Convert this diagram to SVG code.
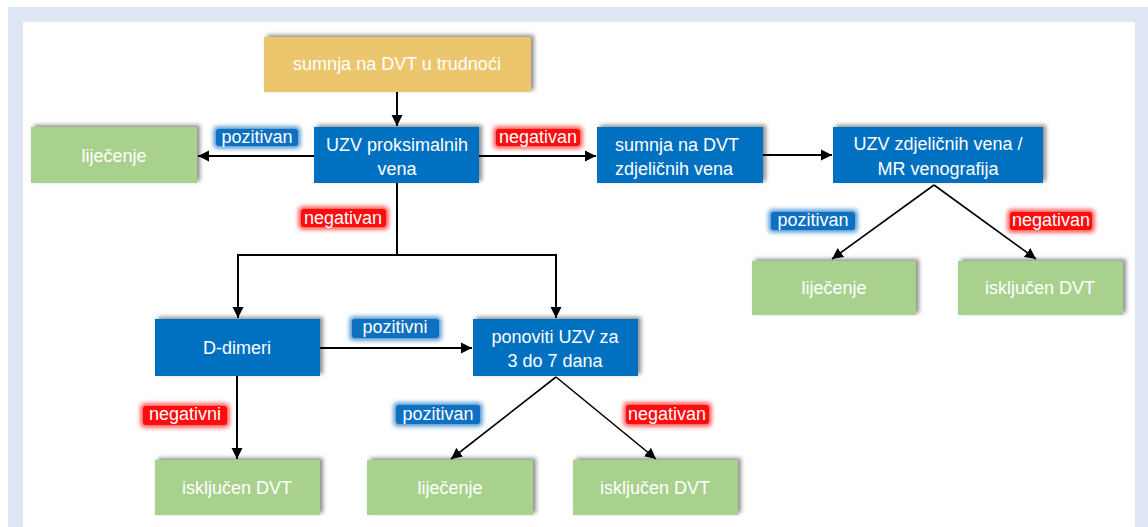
<svg xmlns="http://www.w3.org/2000/svg" width="1148" height="527" viewBox="0 0 1148 527">
<defs>
<style>
.t{font-family:"Liberation Sans",Arial,sans-serif;font-size:18px;fill:#fff;text-anchor:middle}
.tl{font-family:"Liberation Sans",Arial,sans-serif;font-size:18px;fill:#fff}
.yel{fill:#ECC66C}
.blu{fill:#0070C0}
.grn{fill:#A9D18E}
.ln{stroke:#000;stroke-width:2;fill:none}
.ld{stroke:#000;stroke-width:1.6;fill:none}
.pos{fill:#0A6FC0}
.neg{fill:#FF0A0A}
</style>
<filter id="sh" x="-10%" y="-20%" width="120%" height="140%">
<feDropShadow dx="3" dy="-2" stdDeviation="2" flood-color="#000" flood-opacity="0.45"/>
</filter>
<filter id="glowB" x="-25%" y="-70%" width="150%" height="240%">
<feMorphology in="SourceGraphic" operator="dilate" radius="1.5" result="d"/>
<feGaussianBlur in="d" stdDeviation="2.6" result="b"/>
<feComponentTransfer in="b" result="bl"><feFuncA type="linear" slope="0.85"/></feComponentTransfer>
<feMerge><feMergeNode in="bl"/><feMergeNode in="SourceGraphic"/></feMerge>
</filter>
<marker id="ah" markerUnits="userSpaceOnUse" markerWidth="12" markerHeight="12" refX="11" refY="6" orient="auto">
<path d="M0,0.5 L11,6 L0,11.5 z" fill="#000"/>
</marker>
</defs>
<rect x="0" y="0" width="1148" height="527" fill="#fff"/>
<rect x="8" y="7" width="1140" height="520" fill="#DFE6F3"/>
<rect x="23" y="22" width="1112" height="505" fill="#fff"/>

<g id="connectors">
<line class="ln" x1="397" y1="92" x2="397" y2="126" marker-end="url(#ah)"/>
<line class="ln" x1="314" y1="156" x2="198" y2="156" marker-end="url(#ah)"/>
<line class="ln" x1="479" y1="156" x2="596" y2="156" marker-end="url(#ah)"/>
<line class="ln" x1="763" y1="155" x2="832" y2="155" marker-end="url(#ah)"/>
<line class="ld" x1="934" y1="185" x2="832" y2="259" marker-end="url(#ah)"/>
<line class="ld" x1="934" y1="185" x2="1036" y2="259" marker-end="url(#ah)"/>
<polyline class="ln" points="397,183 397,255"/>
<polyline class="ln" points="238,255 556,255"/>
<line class="ln" x1="238" y1="254" x2="238" y2="318" marker-end="url(#ah)"/>
<line class="ln" x1="556" y1="254" x2="556" y2="318" marker-end="url(#ah)"/>
<line class="ln" x1="320" y1="348" x2="472" y2="348" marker-end="url(#ah)"/>
<line class="ln" x1="237" y1="376" x2="237" y2="459" marker-end="url(#ah)"/>
<line class="ld" x1="556" y1="377" x2="451" y2="459" marker-end="url(#ah)"/>
<line class="ld" x1="556" y1="377" x2="656" y2="459" marker-end="url(#ah)"/>
</g>

<g id="labels">
<g id="lbl-poz-1"><rect class="pos" x="216" y="129" width="82" height="17" rx="3" filter="url(#glowB)"/><text class="t" x="257" y="143">pozitivan</text></g>
<g id="lbl-neg-1"><rect class="neg" x="496" y="129" width="84" height="17" rx="3" filter="url(#glowB)"/><text class="t" x="538" y="143">negativan</text></g>
<g id="lbl-neg-2"><rect class="neg" x="301" y="209" width="85" height="18" rx="3" filter="url(#glowB)"/><text class="t" x="343" y="224">negativan</text></g>
<g id="lbl-poz-2"><rect class="pos" x="771" y="212" width="84" height="18" rx="3" filter="url(#glowB)"/><text class="t" x="813" y="226">pozitivan</text></g>
<g id="lbl-neg-3"><rect class="neg" x="1010" y="212" width="82" height="18" rx="3" filter="url(#glowB)"/><text class="t" x="1051" y="226">negativan</text></g>
<g id="lbl-poz-3"><rect class="pos" x="352" y="319" width="87" height="19" rx="3" filter="url(#glowB)"/><text class="t" x="395" y="333">pozitivni</text></g>
<g id="lbl-neg-4"><rect class="neg" x="143" y="406" width="84" height="19" rx="3" filter="url(#glowB)"/><text class="t" x="185" y="420">negativni</text></g>
<g id="lbl-poz-4"><rect class="pos" x="396" y="405" width="84" height="19" rx="3" filter="url(#glowB)"/><text class="t" x="438" y="420">pozitivan</text></g>
<g id="lbl-neg-5"><rect class="neg" x="626" y="405" width="83" height="19" rx="3" filter="url(#glowB)"/><text class="t" x="667" y="420">negativan</text></g>
</g>

<g id="n-sumnja">
<rect class="yel" x="264" y="37" width="267" height="55" filter="url(#sh)"/>
<text class="t" x="397" y="70">sumnja na DVT u trudnoći</text>
</g>
<g id="n-uzv-prox">
<rect class="blu" x="314" y="127" width="165" height="56" filter="url(#sh)"/>
<text class="t" x="397" y="151">UZV proksimalnih</text>
<text class="t" x="397" y="175">vena</text>
</g>
<g id="n-lijecenje-1">
<rect class="grn" x="31" y="127" width="166" height="56" filter="url(#sh)"/>
<text class="t" x="114" y="162">liječenje</text>
</g>
<g id="n-sumnja-zdj">
<rect class="blu" x="597" y="127" width="166" height="56" filter="url(#sh)"/>
<text class="tl" x="615" y="151">sumnja na DVT</text>
<text class="tl" x="615" y="175">zdjeličnih vena</text>
</g>
<g id="n-uzv-zdj">
<rect class="blu" x="833" y="127" width="210" height="56" filter="url(#sh)"/>
<text class="t" x="938" y="150">UZV zdjeličnih vena /</text>
<text class="t" x="938" y="175">MR venografija</text>
</g>
<g id="n-lijecenje-2">
<rect class="grn" x="752" y="261" width="164" height="54" filter="url(#sh)"/>
<text class="t" x="834" y="294">liječenje</text>
</g>
<g id="n-iskljucen-2">
<rect class="grn" x="958" y="261" width="165" height="54" filter="url(#sh)"/>
<text class="t" x="1040" y="294">isključen DVT</text>
</g>
<g id="n-ddimeri">
<rect class="blu" x="155" y="319" width="165" height="57" filter="url(#sh)"/>
<text class="t" x="237" y="354">D-dimeri</text>
</g>
<g id="n-ponoviti">
<rect class="blu" x="473" y="319" width="165" height="57" filter="url(#sh)"/>
<text class="t" x="555" y="343">ponoviti UZV za</text>
<text class="t" x="555" y="367">3 do 7 dana</text>
</g>
<g id="n-iskljucen-1">
<rect class="grn" x="155" y="460" width="165" height="55" filter="url(#sh)"/>
<text class="t" x="237" y="494">isključen DVT</text>
</g>
<g id="n-lijecenje-3">
<rect class="grn" x="367" y="460" width="166" height="55" filter="url(#sh)"/>
<text class="t" x="450" y="494">liječenje</text>
</g>
<g id="n-iskljucen-3">
<rect class="grn" x="573" y="460" width="165" height="55" filter="url(#sh)"/>
<text class="t" x="655" y="494">isključen DVT</text>
</g>
</svg>
